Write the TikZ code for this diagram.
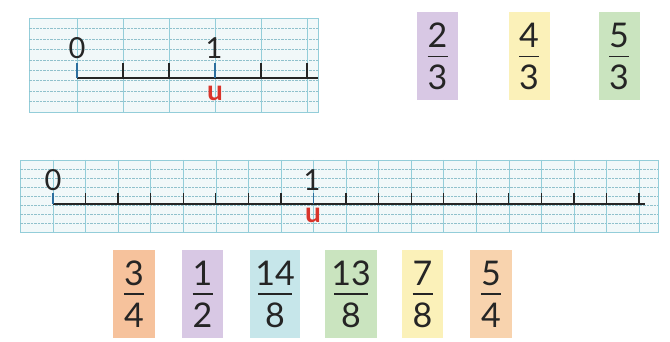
\documentclass[tikz,border=0pt]{standalone}
\usepackage{fontspec}
\setmainfont{Lato}
\usetikzlibrary{positioning}

\definecolor{gridcol}{HTML}{93CDD9}
\definecolor{gridfill}{HTML}{F1F8F9}
\definecolor{tickblue}{HTML}{2C6E9E}
\definecolor{unitred}{HTML}{D9342B}
\definecolor{cpurple}{HTML}{D8C8E4}
\definecolor{cyellow}{HTML}{FBF1B9}
\definecolor{cgreen}{HTML}{CAE4BF}
\definecolor{corange}{HTML}{F6C29C}
\definecolor{clorange}{HTML}{F8D3AE}
\definecolor{ccyan}{HTML}{C6E6EA}
\definecolor{ink}{HTML}{252525}

\begin{document}
\begin{tikzpicture}[
  x=1pt, y=-1pt,
  gridbox/.style={draw=gridcol, fill=gridfill, line width=0.9pt},
  hline/.style={draw=gridcol!85!gray, line width=0.5pt, dash pattern=on 2.5pt off 1pt},
  vline/.style={draw=gridcol, line width=0.6pt},
  axis/.style={draw=ink, line width=1.4pt},
  tick/.style={draw=ink, line width=1.3pt},
  bluetick/.style={draw=tickblue, line width=1.8pt},
  numlbl/.style={font=\fontsize{29}{29}\selectfont, text=ink, inner sep=0pt},
  unitlbl/.style={font=\fontsize{28}{28}\selectfont\bfseries, text=unitred, inner sep=0pt},
  card/.style={rectangle, inner sep=0pt, minimum height=88pt, align=center,
               text=ink, font=\fontsize{34}{42}\selectfont},
  bar/.style={draw=ink, line width=1.3pt},
]
\useasboundingbox[fill=white] (0,0) rectangle (670,342);

% first number line (thirds)
\draw[gridbox] (29,18) rectangle (318,112);
\foreach \k in {1,...,8}
  \draw[hline] (29,{18+\k*94/9}) -- (318,{18+\k*94/9});
\foreach \i in {0,...,5}
  \draw[vline] ({77+46*\i},18) -- ({77+46*\i},112);
\coordinate (a0) at (77,78);
\coordinate (aend) at (318,78);
\draw[axis] (a0) -- (aend);
\foreach \i in {1,2,4,5}
  \draw[tick] ({77+46*\i},78) -- ++(0,-15);
\draw[bluetick] (a0) -- ++(0,-15);
\draw[bluetick] (215,78) -- ++(0,-15);
\node[numlbl] (zeroA) at (77,48) {0};
\node[numlbl] (oneA) at (214,48) {1};
\node[unitlbl] (unitA) at (215,93) {u};

% cards for the thirds
\foreach \nm/\x/\col/\num/\den in {23/437.5/cpurple/2/3, 43/529/cyellow/4/3, 53/619/cgreen/5/3} {
  \node[card, fill=\col, minimum width=41pt] (c\nm) at (\x,56.5) {\num\\\den};
  \draw[bar] ([xshift=-10pt]c\nm.center) -- ([xshift=10pt]c\nm.center);
}

% second number line (eighths)
\draw[gridbox] (20,160) rectangle (658,232);
\foreach \k in {1,...,7}
  \draw[hline] (20,{160+\k*9}) -- (658,{160+\k*9});
\foreach \i in {0,...,18}
  \draw[vline] ({53+32.56*\i},160) -- ({53+32.56*\i},232);
\coordinate (b0) at (53,204);
\coordinate (bend) at (645,204);
\draw[axis] (b0) -- (bend);
\foreach \i in {1,...,7,9,10,...,18}
  \draw[tick] ({53+32.56*\i},204) -- ++(0,-11);
\draw[bluetick] (b0) -- ++(0,-11);
\draw[bluetick] (313.5,204) -- ++(0,-11);
\node[numlbl] (zeroB) at (53,180) {0};
\node[numlbl] (oneB) at (312,180) {1};
\node[unitlbl] (unitB) at (313,215) {u};

% cards for the eighths
\foreach \nm/\x/\w/\col/\num/\den/\bw in {34/134/42/corange/3/4/10, 12/202.5/41/cpurple/1/2/10,
    148/275/50/ccyan/14/8/17, 138/351/52/cgreen/13/8/17, 78/422.5/41/cyellow/7/8/10,
    54/491/42/clorange/5/4/10} {
  \node[card, fill=\col, minimum width=\w pt] (c\nm) at (\x,294) {\num\\\den};
  \draw[bar] ([xshift=-\bw pt]c\nm.center) -- ([xshift=\bw pt]c\nm.center);
}
\end{tikzpicture}
\end{document}
